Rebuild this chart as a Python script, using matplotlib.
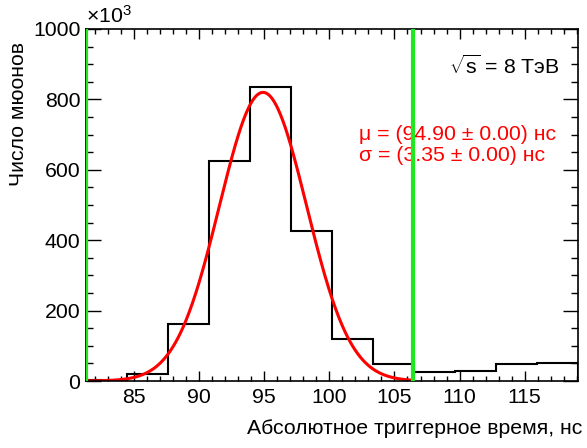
import numpy as np
import matplotlib
matplotlib.use("Agg")
import matplotlib.pyplot as plt
from matplotlib.ticker import MultipleLocator

plt.rcParams['font.family'] = ['Liberation Sans', 'DejaVu Sans']
plt.rcParams['mathtext.fontset'] = 'custom'
plt.rcParams['mathtext.rm'] = 'Liberation Sans'
plt.rcParams['mathtext.it'] = 'Liberation Sans:italic'

# histogram (counts in thousands)
edges = [81.3, 84.45, 87.6, 90.75, 93.9, 97.05, 100.2, 103.35, 106.5, 109.65, 112.8, 115.95, 119.1]
counts = [2, 19, 163, 626, 834, 425, 119, 47, 26, 27, 47, 51]

# gaussian fit parameters
fit_mu = 94.90
fit_sigma = 3.35
fit_amp = 820
fit_lo, fit_hi = 81.3, 106.45

FS = 15.3

fig = plt.figure(figsize=(5.87, 4.48), dpi=100)
ax = fig.add_axes([86/587, 1-381/448, (578-86)/587, (381-29)/448])

ax.stairs(counts, edges, color='black', lw=1.5, baseline=0)

xf = np.linspace(fit_lo, fit_hi, 400)
ax.plot(xf, fit_amp*np.exp(-0.5*((xf-fit_mu)/fit_sigma)**2), color='red', lw=2.2)

ax.axvline(fit_lo, color='#1ee81e', lw=3, zorder=5)
ax.axvline(fit_hi, color='#1ee81e', lw=3, zorder=5)

ax.set_xlim(edges[0], edges[-1])
ax.set_ylim(0, 1000)
ax.xaxis.set_major_locator(MultipleLocator(5))
ax.xaxis.set_minor_locator(MultipleLocator(1))
ax.yaxis.set_major_locator(MultipleLocator(200))
ax.yaxis.set_minor_locator(MultipleLocator(50))
ax.tick_params(which='both', direction='in', top=True, right=True, labelsize=FS, width=1)
ax.tick_params(axis='x', which='major', length=7, pad=5)
ax.tick_params(axis='x', which='minor', length=3.6)
ax.tick_params(axis='y', which='major', length=10.5, pad=4)
ax.tick_params(axis='y', which='minor', length=5)
for s in ax.spines.values():
    s.set_linewidth(1.2)

fig.text(86/587, 1-16/448, r'$\times10^{3}$', fontsize=FS, ha='left', va='center')

ax.set_ylabel('Число мюонов', fontsize=FS, loc='top')
ax.yaxis.set_label_coords(-0.117, 0.964)
ax.set_xlabel('Абсолютное триггерное время, нс', fontsize=FS, loc='right')
ax.xaxis.set_label_coords(1.008, -0.108)

ax.text(0.962, 0.895, r'$\sqrt{\mathrm{s}}$ = 8 ТэВ', transform=ax.transAxes, fontsize=FS, ha='right', va='center')
ax.text(0.555, 0.70, 'μ = (94.90 ± 0.00) нс', transform=ax.transAxes, fontsize=FS, ha='left', va='center', color='red')
ax.text(0.555, 0.642, 'σ = (3.35 ± 0.00) нс', transform=ax.transAxes, fontsize=FS, ha='left', va='center', color='red')

fig.savefig('out.png', dpi=100)
